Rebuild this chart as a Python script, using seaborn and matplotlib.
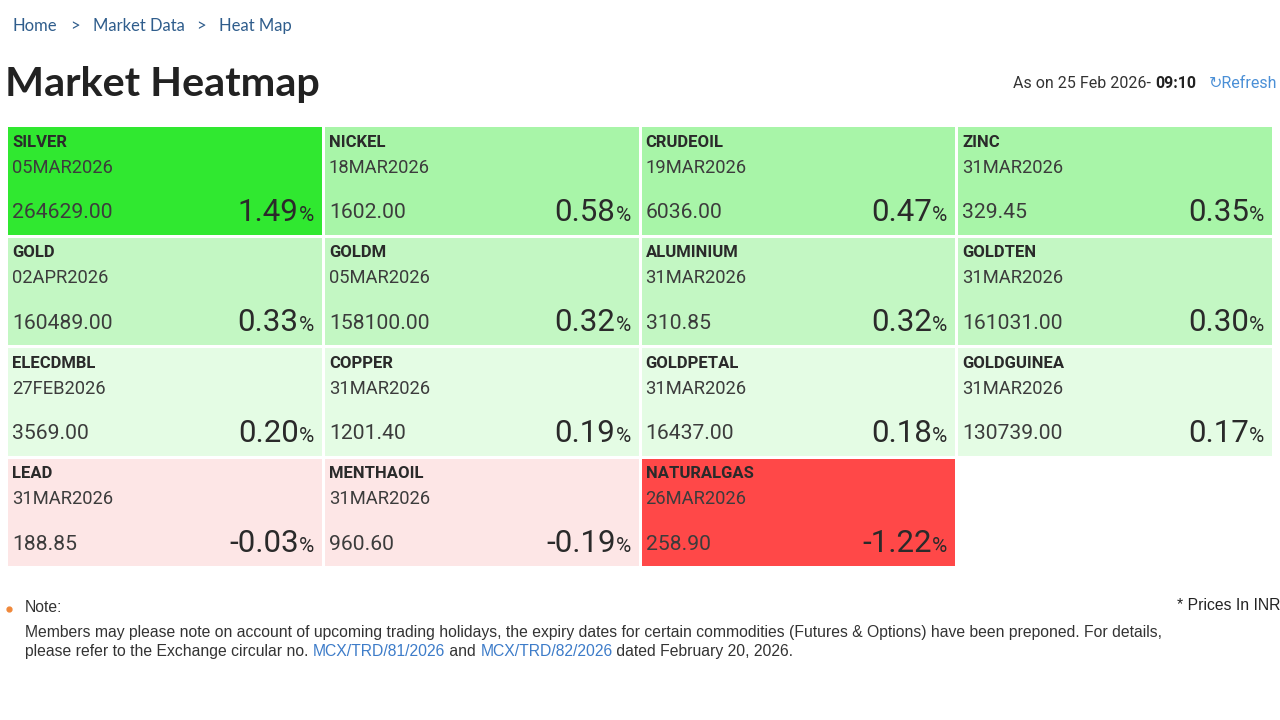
import numpy as np
import matplotlib
matplotlib.use("Agg")
import matplotlib.pyplot as plt
from matplotlib.colors import ListedColormap, BoundaryNorm
import seaborn as sns

sns.set_style("white")
plt.rcParams['font.family'] = ['Roboto', 'DejaVu Sans']

# D A T A
symbols = ["SILVER", "NICKEL", "CRUDEOIL", "ZINC",
           "GOLD", "GOLDM", "ALUMINIUM", "GOLDTEN",
           "ELECDMBL", "COPPER", "GOLDPETAL", "GOLDGUINEA",
           "LEAD", "MENTHAOIL", "NATURALGAS"]
expiries = ["05MAR2026", "18MAR2026", "19MAR2026", "31MAR2026",
            "02APR2026", "05MAR2026", "31MAR2026", "31MAR2026",
            "27FEB2026", "31MAR2026", "31MAR2026", "31MAR2026",
            "31MAR2026", "31MAR2026", "26MAR2026"]
prices = [264629.00, 1602.00, 6036.00, 329.45,
          160489.00, 158100.00, 310.85, 161031.00,
          3569.00, 1201.40, 16437.00, 130739.00,
          188.85, 960.60, 258.90]
pct_change = [1.49, 0.58, 0.47, 0.35,
              0.33, 0.32, 0.32, 0.30,
              0.20, 0.19, 0.18, 0.17,
              -0.03, -0.19, -1.22]

# colour buckets of % change
bin_edges = [-5, -1, 0, 0.25, 0.34, 1, 5]
bin_colors = ['#ff4848', '#fde6e6', '#e4fce4', '#c3f7c3', '#a8f5a8', '#30e830']

n_cols = 4
n_rows = int(np.ceil(len(pct_change) / n_cols))
grid = np.full(n_rows * n_cols, np.nan)
grid[:len(pct_change)] = pct_change
grid = grid.reshape(n_rows, n_cols)

cmap = ListedColormap(bin_colors)
norm = BoundaryNorm(bin_edges, cmap.N)

W, H = 1280, 720
fig = plt.figure(figsize=(W / 100, H / 100), dpi=100)

# page overlay in pixel coords for header / footer text
page = fig.add_axes([0, 0, 1, 1])
page.set_xlim(0, W)
page.set_ylim(H, 0)
page.axis('off')

ax = fig.add_axes([6 / W, 1 - 567 / H, 1267 / W, 442 / H])
sns.heatmap(grid, mask=np.isnan(grid), cmap=cmap, norm=norm, cbar=False,
            linewidths=1.8, linecolor='white', xticklabels=False,
            yticklabels=False, ax=ax)

for i, (sym, exp, price, chg) in enumerate(zip(symbols, expiries, prices, pct_change)):
    r, c = divmod(i, n_cols)
    ax.text(c + 0.019, r + 0.155, sym, fontsize=12, fontweight='bold',
            color='#2a2a2a', va='center', ha='left')
    ax.text(c + 0.019, r + 0.385, exp, fontsize=13.2, color='#3c3c3c',
            va='center', ha='left')
    ax.text(c + 0.019, r + 0.845, f"{price:.2f}", fontsize=15.2,
            color='#3c3c3c', va='baseline', ha='left')
    pct_sign = ax.text(c + 0.972, r + 0.865, "%", fontsize=15,
                       color='#2a2a2a', va='baseline', ha='right')
    ax.annotate(f"{chg:.2f}", xy=(0, r + 0.865), xycoords=(pct_sign, 'data'),
                fontsize=22.5, color='#2a2a2a', va='baseline', ha='right')

# header
crumb_font = ['Lato', 'DejaVu Sans']
for x, txt in [(12, "Home"), (70, ">"), (93, "Market Data"), (196, ">"), (219, "Heat Map")]:
    page.text(x, 26, txt, fontsize=12, family=crumb_font,
              color='#2f5d8c', va='center', ha='left')
page.text(5, 96, "Market Heatmap", fontsize=29.8, fontweight='bold',
          family=['Lato', 'DejaVu Sans'], color='#222222', va='baseline', ha='left')

asof = page.text(1013, 88, "As on 25 Feb 2026- ", fontsize=11.5,
                 color='#333333', va='baseline', ha='left')
tm = page.annotate("09:10", xy=(1, 88), xycoords=(asof, 'data'), fontsize=11.5,
                   fontweight='bold', color='#222222', va='baseline', ha='left')
page.annotate("↻Refresh", xy=(1, 88), xycoords=(tm, 'data'),
              xytext=(9, 0), textcoords='offset points', fontsize=11.5,
              color='#4a8fd6', va='baseline', ha='left')

# footer note
foot_font = ['Liberation Sans', 'DejaVu Sans']
fs = 11.35
page.plot([9], [609], 'o', color='#f0883a', markersize=3.5)
page.text(25, 608, "Note:", fontsize=fs, family=foot_font, color='#333333',
          va='center', ha='left')
page.text(1177, 605, "* Prices In INR", fontsize=fs, family=foot_font,
          color='#222222', va='center', ha='left')
page.text(25, 632, "Members may please note on account of upcoming trading holidays, "
          "the expiry dates for certain commodities (Futures & Options) have been "
          "preponed. For details,", fontsize=fs, family=foot_font,
          color='#333333', va='center', ha='left')

pieces = [("please refer to the Exchange circular no. ", '#333333'),
          ("MCX/TRD/81/2026", '#3d7cc9'),
          (" and ", '#333333'),
          ("MCX/TRD/82/2026", '#3d7cc9'),
          (" dated February 20, 2026.", '#333333')]
prev = page.text(25, 656, pieces[0][0], fontsize=fs, family=foot_font,
                 color=pieces[0][1], va='baseline', ha='left')
for txt, col in pieces[1:]:
    prev = page.annotate(txt, xy=(1, 656), xycoords=(prev, 'data'),
                         fontsize=fs, family=foot_font, color=col,
                         va='baseline', ha='left')

plt.savefig("out.png", dpi=100)
